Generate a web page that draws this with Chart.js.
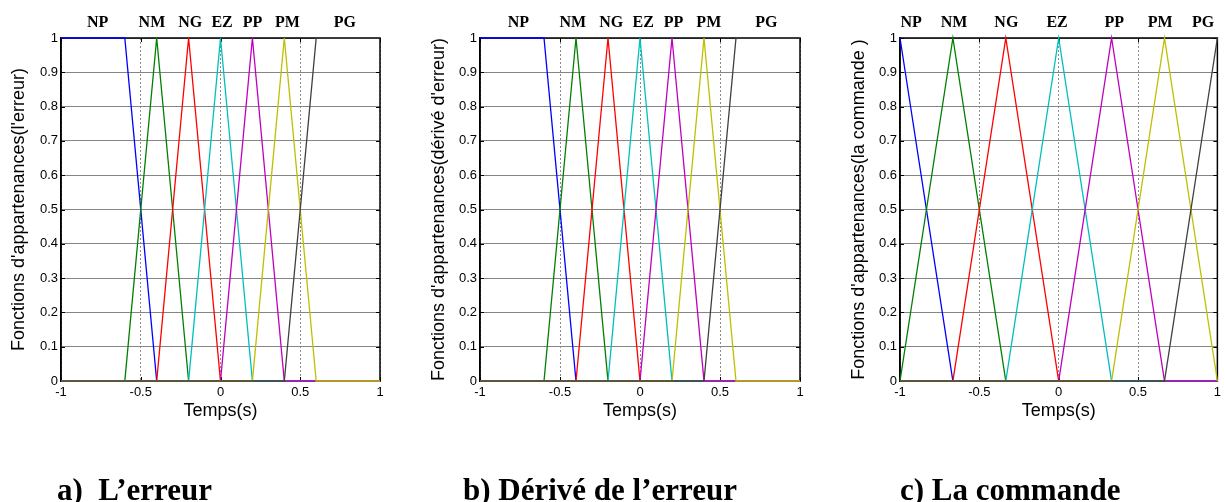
<!DOCTYPE html>
<html>
<head>
<meta charset="utf-8">
<script src="https://cdn.jsdelivr.net/npm/chart.js@4"></script>
<style>
  body { margin: 0; background: #fff; width: 1225px; height: 502px; position: relative; overflow: hidden; }
  canvas { position: absolute; top: 0; }
  .caption { position: absolute; top: 474px; font: bold 31px "Liberation Serif", serif; line-height: 31px; white-space: pre; color: #000; }
</style>
</head>
<body>
<canvas id="chartA" width="420" height="502" style="left:0"></canvas>
<canvas id="chartB" width="420" height="502" style="left:420px"></canvas>
<canvas id="chartC" width="385" height="502" style="left:840px"></canvas>
<div class="caption" style="left:57px">a)  L’erreur</div>
<div class="caption" style="left:463px">b) Dérivé de l’erreur</div>
<div class="caption" style="left:900px">c) La commande</div>
<script>
const termNames = ['NP', 'NM', 'NG', 'EZ', 'PP', 'PM', 'PG'];
const termColors = ['#0000ff', '#008000', '#ff0000', '#00bfbf', '#bf00bf', '#bfbf00', '#404040'];

// erreur (a) and dérivé de l'erreur (b): same partition of [-1, 1]
const errX = [-1, -0.6, -0.4, -0.2, 0, 0.2, 0.4, 0.6, 1];
const errNP = [1, 1, 0, 0, 0, 0, 0, 0, 0];
const errNM = [0, 0, 1, 0, 0, 0, 0, 0, 0];
const errNG = [0, 0, 0, 1, 0, 0, 0, 0, 0];
const errEZ = [0, 0, 0, 0, 1, 0, 0, 0, 0];
const errPP = [0, 0, 0, 0, 0, 1, 0, 0, 0];
const errPM = [0, 0, 0, 0, 0, 0, 1, 0, 0];
const errPG = [0, 0, 0, 0, 0, 0, 0, 1, 1];
const errNameX = [-0.77, -0.43, -0.19, 0.01, 0.2, 0.42, 0.78];
const dErrNameX = [-0.76, -0.42, -0.18, 0.02, 0.21, 0.43, 0.79];

// la commande (c): seven evenly spaced triangles
const cmdX = [-1, -0.6667, -0.3333, 0, 0.3333, 0.6667, 1];
const cmdNP = [1, 0, 0, 0, 0, 0, 0];
const cmdNM = [0, 1, 0, 0, 0, 0, 0];
const cmdNG = [0, 0, 1, 0, 0, 0, 0];
const cmdEZ = [0, 0, 0, 1, 0, 0, 0];
const cmdPP = [0, 0, 0, 0, 1, 0, 0];
const cmdPM = [0, 0, 0, 0, 0, 1, 0];
const cmdPG = [0, 0, 0, 0, 0, 0, 1];
const cmdNameX = [-0.93, -0.66, -0.33, -0.01, 0.35, 0.64, 0.91];

const xTicks = [-1, -0.5, 0, 0.5, 1];

// matlab-like frame, inner ticks and term names above the axes
const framePlugin = {
  id: 'frame',
  beforeDatasetsDraw(chart) {
    const {ctx, chartArea: a, scales: {x, y}} = chart;
    ctx.save();
    ctx.strokeStyle = '#000';
    ctx.lineWidth = 1;
    ctx.beginPath();
    y.ticks.forEach(t => {
      const py = Math.round(y.getPixelForValue(t.value)) + 0.5;
      ctx.moveTo(a.left, py); ctx.lineTo(a.left + 4, py);
      ctx.moveTo(a.right, py); ctx.lineTo(a.right - 4, py);
    });
    x.ticks.forEach(t => {
      const px = Math.round(x.getPixelForValue(t.value)) + 0.5;
      ctx.moveTo(px, a.bottom); ctx.lineTo(px, a.bottom - 4);
      ctx.moveTo(px, a.top); ctx.lineTo(px, a.top + 4);
    });
    ctx.stroke();
    ctx.lineWidth = 1.5;
    ctx.strokeRect(a.left, a.top, a.right - a.left, a.bottom - a.top);
    ctx.restore();
  },
  afterDraw(chart, args, opts) {
    const {ctx, chartArea: a, scales: {x}} = chart;
    ctx.save();
    ctx.font = 'bold 16px "Liberation Serif", serif';
    ctx.fillStyle = '#000';
    ctx.textAlign = 'center';
    ctx.textBaseline = 'middle';
    termNames.forEach((n, i) => ctx.fillText(n, x.getPixelForValue(opts.nameX[i]), a.top - 15));
    ctx.restore();
  }
};

const fmt = (v) => String(Math.round(v * 10) / 10);

function makeChart(id, xs, sets, nameX, yTitle, yAxisW, pad) {
  // later terms are painted on top, like successive plot() calls
  const datasets = sets.map((ys, i) => ({
    label: termNames[i],
    data: xs.map((x, k) => ({x: x, y: ys[k]})),
    borderColor: termColors[i],
    borderWidth: 1.3,
    showLine: true,
    pointRadius: 0,
    tension: 0,
    clip: false,
    order: -i
  }));
  return new Chart(document.getElementById(id), {
    type: 'scatter',
    data: {datasets: datasets},
    plugins: [framePlugin],
    options: {
      responsive: false,
      animation: false,
      layout: {padding: pad},
      plugins: {
        legend: {display: false},
        tooltip: {enabled: false},
        frame: {nameX: nameX}
      },
      scales: {
        x: {
          type: 'linear',
          min: -1, max: 1,
          afterBuildTicks: (s) => { s.ticks = xTicks.map(v => ({value: v})); },
          afterFit: (s) => { s.height = 41; },
          ticks: {
            padding: 4,
            color: '#000',
            callback: fmt,
            font: {family: '"Liberation Sans", Arial', size: 13}
          },
          grid: {color: '#8c8c8c', lineWidth: 1, drawTicks: false},
          border: {color: '#000', width: 1.5, dash: [2, 2]},
          title: {
            display: true, text: 'Temps(s)', color: '#000',
            padding: {top: 0, bottom: 0},
            font: {family: '"Liberation Sans", Arial', size: 18}
          }
        },
        y: {
          min: 0, max: 1,
          afterFit: (s) => { s.width = yAxisW; },
          ticks: {
            stepSize: 0.1,
            padding: 3,
            color: '#000',
            callback: fmt,
            font: {family: '"Liberation Sans", Arial', size: 13}
          },
          grid: {color: '#858585', lineWidth: 1, drawTicks: false},
          border: {color: '#000', width: 1.5},
          title: {
            display: true, text: yTitle, color: '#000',
            padding: {top: 8, bottom: 0},
            font: {family: '"Liberation Sans", Arial', size: 18}
          }
        }
      }
    }
  });
}

makeChart('chartA', errX, [errNP, errNM, errNG, errEZ, errPP, errPM, errPG], errNameX,
  "Fonctions d'appartenances(l'erreur)", 61, {left: 0, top: 38, right: 40, bottom: 80});
makeChart('chartB', errX, [errNP, errNM, errNG, errEZ, errPP, errPM, errPG], dErrNameX,
  "Fonctions d'appartenances(dérivé d'erreur)", 60, {left: 0, top: 38, right: 40, bottom: 80});
makeChart('chartC', cmdX, [cmdNP, cmdNM, cmdNG, cmdEZ, cmdPP, cmdPM, cmdPG], cmdNameX,
  "Fonctions d'appartenances(la commande )", 60, {left: 0, top: 38, right: 7, bottom: 80});
</script>
</body>
</html>
